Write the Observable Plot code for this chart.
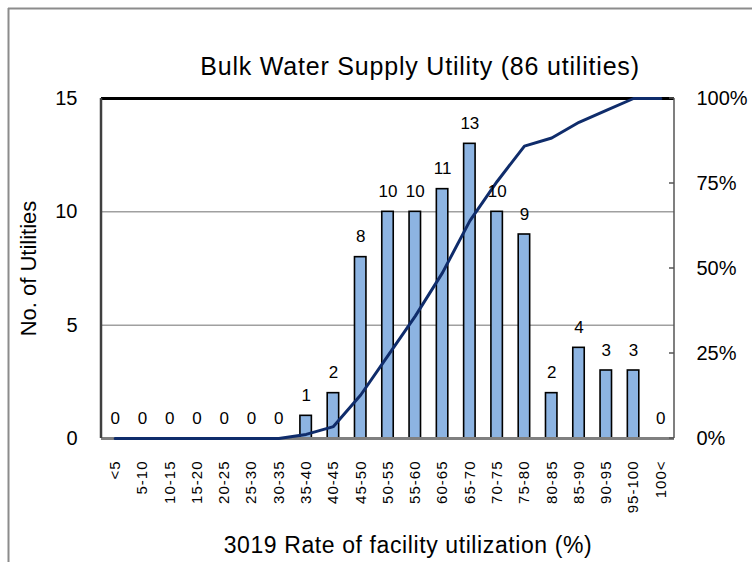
<!DOCTYPE html>
<html>
<head>
<meta charset="utf-8">
<script src="https://cdn.jsdelivr.net/npm/d3@7"></script>
<script src="https://cdn.jsdelivr.net/npm/@observablehq/plot@0.6"></script>
<style>
  body { margin: 0; background: #fff; }
  #chart { position: relative; width: 752px; height: 562px; }
  #chart svg { font-family: "Liberation Sans", Arial, sans-serif; }
</style>
</head>
<body>
<div id="chart"></div>
<script>
const categories = ["<5","5-10","10-15","15-20","20-25","25-30","30-35","35-40","40-45","45-50","50-55","55-60","60-65","65-70","70-75","75-80","80-85","85-90","90-95","95-100","100<"];
const counts = [0,0,0,0,0,0,0,1,2,8,10,10,11,13,10,9,2,4,3,3,0];
const cumulativePct = [0,0,0,0,0,0,0,1.2,3.5,12.8,24.4,36.0,48.8,64.0,75.6,86.0,88.4,93.0,96.5,100,100];
const leftTicks = [0,5,10,15];
const rightTicksPct = [0,25,50,75,100];
const yMax = 15;
const titleText = "Bulk Water Supply Utility (86 utilities)";
const xLabel = "3019 Rate of facility utilization (%)";
const yLabel = "No. of Utilities";

const rows = categories.map((c, i) => ({cat: c, count: counts[i], cumY: cumulativePct[i] / 100 * yMax}));
const pctToY = p => p / 100 * yMax;

const W = 752, H = 562;
const mL = 101, mR = 78, mT = 98, mB = 124;

// custom mark: frame edges, right-axis inward ticks, outer border
const decorations = (index, scales, values, dims) => {
  const g = d3.create("svg:g");
  const x0 = dims.marginLeft, x1 = dims.width - dims.marginRight;
  const y0 = dims.marginTop, y1 = dims.height - dims.marginBottom;
  g.append("line").attr("x1", 8).attr("x2", W).attr("y1", 8.5).attr("y2", 8.5).attr("stroke", "#8c8c8c").attr("stroke-width", 2);
  g.append("line").attr("x1", 8.5).attr("x2", 8.5).attr("y1", 8).attr("y2", H).attr("stroke", "#8c8c8c").attr("stroke-width", 2);
  g.append("line").attr("x1", x0).attr("x2", x0).attr("y1", y0).attr("y2", y1).attr("stroke", "#404040").attr("stroke-width", 2.5);
  g.append("line").attr("x1", x1).attr("x2", x1).attr("y1", y0).attr("y2", y1).attr("stroke", "#555").attr("stroke-width", 1.5);
  for (const p of rightTicksPct) {
    const y = scales.y(pctToY(p));
    g.append("line").attr("x1", x1 - 5).attr("x2", x1).attr("y1", y).attr("y2", y).attr("stroke", "#555").attr("stroke-width", 1.5);
  }
  return g.node();
};

const plot = Plot.plot({
  width: W,
  height: H,
  marginLeft: mL,
  marginRight: mR,
  marginTop: mT,
  marginBottom: mB,
  style: {fontFamily: "Liberation Sans, Arial, sans-serif", background: "white"},
  x: {domain: categories, paddingInner: 0.58, paddingOuter: 0.29, round: false, label: null},
  y: {domain: [0, yMax], label: null},
  marks: [
    Plot.ruleY([5, 10], {stroke: "#a0a0a0", strokeWidth: 1.5}),
    Plot.barY(rows, {x: "cat", y: "count", fill: "#8DB4E2", stroke: "#000", strokeWidth: 1.6}),
    Plot.ruleY([15], {stroke: "#000", strokeWidth: 3}),
    Plot.ruleY([0], {stroke: "#808080", strokeWidth: 3}),
    decorations,
    Plot.line(rows, {x: "cat", y: "cumY", stroke: "#0F2C6B", strokeWidth: 3, curve: "linear", strokeLinejoin: "round"}),
    Plot.text(rows, {x: "cat", y: "count", text: d => String(d.count), lineAnchor: "bottom", dy: -15, fontSize: 17, fill: "#000"}),
    Plot.axisY({anchor: "left", ticks: leftTicks, tickSize: 0, tickPadding: 24, fontSize: 20, tickFormat: d => String(d), label: null}),
    Plot.axisY({anchor: "right", ticks: rightTicksPct.map(pctToY), tickSize: 0, tickPadding: 22, fontSize: 20, tickFormat: d => Math.round(d / yMax * 100) + "%", label: null}),
    Plot.axisX({anchor: "bottom", tickRotate: -90, tickSize: 0, tickPadding: 22, fontSize: 15, label: null}),
    Plot.text([titleText], {frameAnchor: "top", dx: 32, dy: -24, lineAnchor: "bottom", fontSize: 25, fill: "#000"}),
    Plot.text([xLabel], {frameAnchor: "bottom", dx: 20, dy: 114, lineAnchor: "bottom", fontSize: 23, fill: "#000"}),
    Plot.text([yLabel], {frameAnchor: "left", dx: -66, rotate: -90, textAnchor: "middle", lineAnchor: "bottom", fontSize: 22, fill: "#000"})
  ]
});

document.getElementById("chart").appendChild(plot);

const svg = d3.select(plot);
const catSet = new Set(categories);
svg.selectAll("text").each(function() {
  const t = d3.select(this);
  const txt = t.text();
  if (txt === titleText) t.attr("letter-spacing", "0.8px");
  if (txt === xLabel) t.attr("letter-spacing", "0.6px");
  if (catSet.has(txt)) t.style("font-size", "15px").attr("letter-spacing", "1px");
});
</script>
</body>
</html>
